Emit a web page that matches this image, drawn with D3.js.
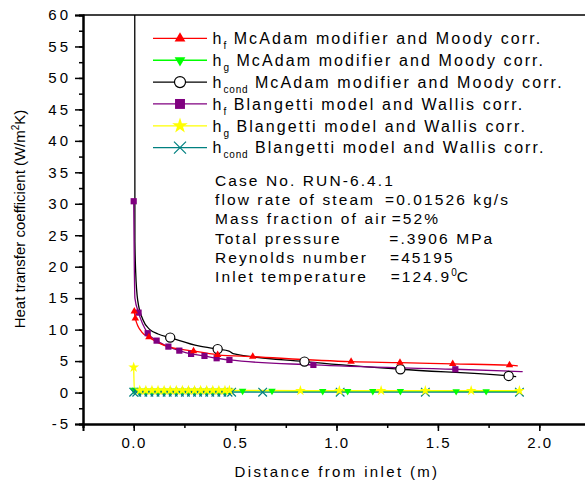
<!DOCTYPE html>
<html><head><meta charset="utf-8">
<script src="https://cdn.jsdelivr.net/npm/d3@7"></script>
<style>
body{margin:0;background:#fff;}
text{font-family:"Liberation Sans",Arial,sans-serif;fill:#000;}
</style></head>
<body><svg id="c" width="585" height="485"></svg>
<script>
// ---- data ----
const xDomain = [-0.25, 2.25];
const yDomain = [-5, 60];
const xMinorTicks = [-0.25,0,0.25,0.5,0.75,1.0,1.25,1.5,1.75,2.0,2.25];
const xMajorTicks = [0,0.5,1.0,1.5,2.0];
const xTickLabels = ["0.0","0.5","1.0","1.5","2.0"];
const yMinorTicks = [-5,-2.5,0,2.5,5,7.5,10,12.5,15,17.5,20,22.5,25,27.5,30,32.5,35,37.5,40,42.5,45,47.5,50,52.5,55,57.5,60];
const yMajorTicks = [-5,0,5,10,15,20,25,30,35,40,45,50,55,60];
const yTickLabels = ["-5","0","5","10","15","20","25","30","35","40","45","50","55","60"];

// h_f McAdam modifier and Moody corr. (red, triangles)
const hfMcX = [0.003,0.008,0.04,0.075,0.15,0.295,0.414,0.587,1.072,1.313,1.573,1.853,1.894];
const hfMcY = [12.9,11.8,9.6,8.8,7.5,6.6,6.0,5.7,4.91,4.75,4.55,4.35,4.25];
const hfMcMarks = [0,1,3,5,6,7,8,9,10,11];

// h_cond McAdam modifier and Moody corr. (black, circles)
const hcMcX = [0.005,0.006,0.01,0.02,0.045,0.08,0.12,0.18,0.32,0.414,0.47,0.49,0.842,1.315,1.849,1.886];
const hcMcY = [70,24,19,14.6,11.6,10.0,9.3,8.73,7.4,6.9,6.6,6.2,4.92,3.70,2.64,2.53];
const hcMcMarks = [7,9,12,13,14];

// h_f Blangetti model and Wallis corr. (purple, squares)
const hfBlX = [0.0,0.003,0.006,0.024,0.069,0.113,0.171,0.225,0.283,0.349,0.409,0.472,0.886,1.586,1.918];
const hfBlY = [30.4,20,15,12.7,9.43,8.25,7.3,6.66,6.14,5.82,5.45,5.18,4.39,3.70,3.33];
const hfBlMarks = [0,3,4,5,6,7,8,9,10,11,12,13];

// h_g McAdam modifier and Moody corr. (green, down triangles)
const hgMcX = [0.0,0.03,0.06,0.09,0.12,0.15,0.18,0.21,0.24,0.27,0.30,0.33,0.36,0.39,0.42,0.45,0.47,0.537,0.682,0.932,1.055,1.179,1.315,1.59,1.738,1.90];
const hgMcY = [0.4,0.25,0.25,0.25,0.25,0.25,0.25,0.25,0.25,0.25,0.25,0.25,0.25,0.25,0.25,0.25,0.25,0.25,0.25,0.22,0.22,0.22,0.22,0.2,0.2,0.2];
const hgMcMarks = [0,1,2,3,4,5,6,7,8,9,10,11,12,13,14,15,16,17,18,19,20,21,22,23,24];

// h_g Blangetti model and Wallis corr. (yellow, stars)
const hgBlX = [0.0,0.003,0.03,0.06,0.09,0.12,0.15,0.18,0.21,0.24,0.27,0.30,0.33,0.36,0.39,0.42,0.45,0.472,0.822,1.014,1.22,1.438,1.664,1.902];
const hgBlY = [4.0,0.6,0.35,0.35,0.35,0.35,0.35,0.35,0.35,0.35,0.35,0.35,0.35,0.35,0.35,0.35,0.35,0.35,0.3,0.3,0.3,0.3,0.3,0.3];
const hgBlMarks = [0,2,3,4,5,6,7,8,9,10,11,12,13,14,15,16,17,18,19,20,21,22,23];

// h_cond Blangetti model and Wallis corr. (teal, crosses)
const hcBlX = [0.0,0.015,0.045,0.075,0.105,0.135,0.165,0.195,0.225,0.255,0.285,0.315,0.345,0.375,0.405,0.435,0.465,0.483,0.636,1.018,1.438,1.902];
const hcBlY = [0.05,0.05,0.05,0.05,0.05,0.05,0.05,0.05,0.05,0.05,0.05,0.05,0.05,0.05,0.05,0.05,0.05,0.05,0.05,0.05,0.05,0.05];
const hcBlMarks = [0,1,2,3,4,5,6,7,8,9,10,11,12,13,14,15,16,17,18,19,20,21];

const legendNames = [
  ["h","f"," McAdam modifier and Moody corr."],
  ["h","g"," McAdam modifier and Moody corr."],
  ["h","cond"," McAdam modifier and Moody corr."],
  ["h","f"," Blangetti model and Wallis corr."],
  ["h","g"," Blangetti model and Wallis corr."],
  ["h","cond"," Blangetti model and Wallis corr."]
];
const infoLabels = ["Case No. RUN-6.4.1","flow rate of steam","Mass fraction of air","Total pressure","Reynolds number","Inlet temperature"];
const infoValues = ["","=0.01526 kg/s","=52%","=.3906 MPa","=45195","=124.9"];

// ---- drawing ----
const svg = d3.select("#c");
const L=83, R=590, T=15, B=424;
const x = d3.scaleLinear().domain(xDomain).range([L,R]);
const y = d3.scaleLinear().domain(yDomain).range([B,T]);

svg.append("defs").append("clipPath").attr("id","clip")
  .append("rect").attr("x",L).attr("y",T).attr("width",R-L).attr("height",B-T);

// axes
const gx1 = svg.append("g").attr("transform",`translate(0,${B})`)
  .call(d3.axisBottom(x).tickValues(xMinorTicks).tickSize(4).tickFormat(""));
const gx2 = svg.append("g").attr("transform",`translate(0,${B})`)
  .call(d3.axisBottom(x).tickValues(xMajorTicks).tickSize(7).tickPadding(6)
    .tickFormat((d,i)=>xTickLabels[i]));
const gy1 = svg.append("g").attr("transform",`translate(${L},0)`)
  .call(d3.axisLeft(y).tickValues(yMinorTicks).tickSize(4).tickFormat(""));
const gy2 = svg.append("g").attr("transform",`translate(${L},0)`)
  .call(d3.axisLeft(y).tickValues(yMajorTicks).tickSize(8).tickPadding(4)
    .tickFormat((d,i)=>yTickLabels[i]));
[gx1,gx2,gy1,gy2].forEach(g=>{
  g.selectAll("path.domain").attr("stroke","#000").attr("stroke-width",2);
  g.selectAll(".tick line").attr("stroke","#000").attr("stroke-width",1.5);
  g.selectAll("text").style("font-size","15px")
    .style("font-family","Liberation Sans, Arial, sans-serif").attr("fill","#000");
});
gx2.selectAll("text").attr("dy","0.71em").style("letter-spacing","1.5px");
gy2.selectAll("text").style("letter-spacing","3px");
svg.append("line").attr("x1",L).attr("x2",R).attr("y1",T).attr("y2",T)
  .attr("stroke","#000").attr("stroke-width",1.5);

// axis titles
svg.append("text").attr("x",337).attr("y",477).attr("text-anchor","middle")
  .style("font-size","15px").style("letter-spacing","2.35px").text("Distance from inlet (m)");
const yt = svg.append("text").attr("transform","translate(25,219) rotate(-90)")
  .attr("text-anchor","middle").style("font-size","15px");
yt.append("tspan").text("Heat transfer coefficient (W/m");
yt.append("tspan").attr("dy",-6).style("font-size","10px").text("2");
yt.append("tspan").attr("dy",6).text("K)");

// markers
function shape(kind, g, cx, cy, big){
  const k = big ? 1.45 : 1;
  if(kind==="triUp"){
    g.append("path").attr("d",d3.symbol().type(d3.symbolTriangle).size(24*k*k)())
     .attr("transform",`translate(${cx},${cy})`).attr("fill","#ff0000");
  } else if(kind==="triDown"){
    g.append("path").attr("d",d3.symbol().type(d3.symbolTriangle).size(24*k*k)())
     .attr("transform",`translate(${cx},${cy}) rotate(180)`).attr("fill","#00ff00");
  } else if(kind==="circle"){
    g.append("circle").attr("cx",cx).attr("cy",cy).attr("r",4.6*(big?1.2:1))
     .attr("fill","#fff").attr("stroke","#000").attr("stroke-width",1.2);
  } else if(kind==="square"){
    const h=3.1*(big?1.6:1);
    g.append("rect").attr("x",cx-h).attr("y",cy-h).attr("width",2*h).attr("height",2*h).attr("fill","#800080");
  } else if(kind==="star"){
    g.append("path").attr("d",d3.symbol().type(d3.symbolStar).size(36*k*k)())
     .attr("transform",`translate(${cx},${cy})`).attr("fill","#ffff00");
  } else if(kind==="cross"){
    const h=4.3*(big?1.4:1);
    g.append("path").attr("d",`M${cx-h},${cy-h}L${cx+h},${cy+h}M${cx-h},${cy+h}L${cx+h},${cy-h}`)
     .attr("stroke","#008080").attr("stroke-width",1.2).attr("fill","none");
  }
}

const series = [
  {xs:hgMcX, ys:hgMcY, marks:hgMcMarks, color:"#00ff00", kind:"triDown"},
  {xs:hcBlX, ys:hcBlY, marks:hcBlMarks, color:"#008080", kind:"cross"},
  {xs:hgBlX, ys:hgBlY, marks:hgBlMarks, color:"#ffff00", kind:"star"},
  {xs:hcMcX, ys:hcMcY, marks:hcMcMarks, color:"#000000", kind:"circle"},
  {xs:hfBlX, ys:hfBlY, marks:hfBlMarks, color:"#800080", kind:"square"},
  {xs:hfMcX, ys:hfMcY, marks:hfMcMarks, color:"#ff0000", kind:"triUp"}
];
const line = d3.line().x(d=>x(d[0])).y(d=>y(d[1])).curve(d3.curveMonotoneX);
const plot = svg.append("g").attr("clip-path","url(#clip)");
series.forEach(s=>{
  const pts = s.xs.map((v,i)=>[v,s.ys[i]]);
  plot.append("path").attr("d",line(pts)).attr("fill","none")
    .attr("stroke",s.color).attr("stroke-width",1.3);
});
series.forEach(s=>{
  const g = plot.append("g");
  s.marks.forEach(i=>shape(s.kind,g,x(s.xs[i]),y(s.ys[i]),false));
});

// legend
const legOrder = [
  {color:"#ff0000",kind:"triUp"},{color:"#00ff00",kind:"triDown"},{color:"#000000",kind:"circle"},
  {color:"#800080",kind:"square"},{color:"#ffff00",kind:"star"},{color:"#008080",kind:"cross"}];
const lg = svg.append("g");
legOrder.forEach((d,i)=>{
  const cy = 38.4 + i*21.85;
  lg.append("line").attr("x1",153).attr("x2",207).attr("y1",cy).attr("y2",cy)
    .attr("stroke",d.color).attr("stroke-width",1.3);
  shape(d.kind, lg, 180, cy, true);
  const t = lg.append("text").attr("x",212.5).attr("y",cy+5.7)
    .style("font-size","16px").style("letter-spacing","2.1px");
  t.append("tspan").text(legendNames[i][0]);
  t.append("tspan").attr("dy",5).style("font-size","10px").style("letter-spacing","0.8px").text(legendNames[i][1]);
  t.append("tspan").attr("dy",-5).text(legendNames[i][2]);
});

// info block
const valX = [0,385,391.7,389.3,390,390.7];
infoLabels.forEach((lab,i)=>{
  const by = 186 + i*19.2;
  svg.append("text").attr("x",215).attr("y",by).style("font-size","15.5px")
    .style("letter-spacing","2.1px").text(lab);
  if(infoValues[i]){
    const t = svg.append("text").attr("x",valX[i]).attr("y",by).style("font-size","15.5px")
      .style("letter-spacing","2.1px");
    t.append("tspan").text(infoValues[i]);
    if(i===5){
      t.append("tspan").attr("dy",-6).style("font-size","10px").style("letter-spacing","0px").text("0");
      t.append("tspan").attr("dy",6).text("C");
    }
  }
});
</script></body></html>
